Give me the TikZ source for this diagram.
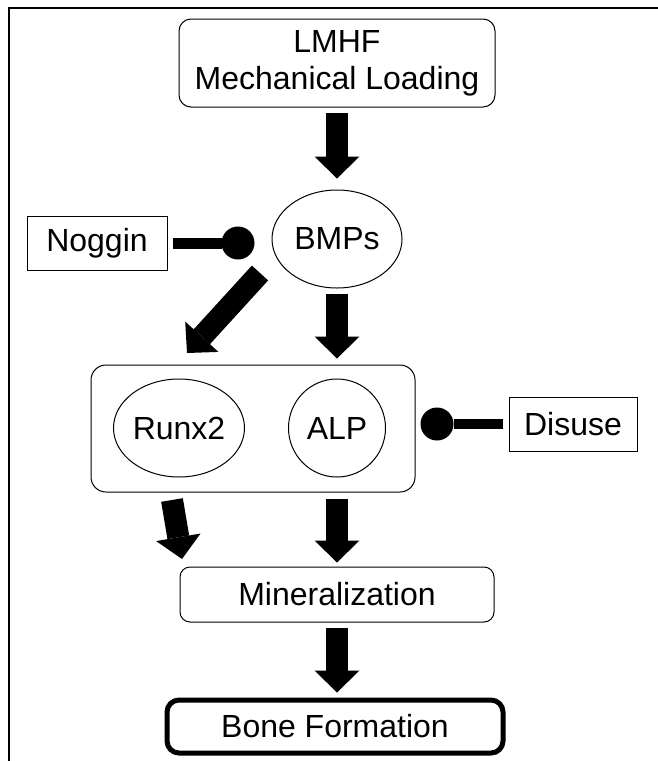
\documentclass[tikz,border=0pt]{standalone}
\usepackage{fontspec}
\setmainfont{Liberation Sans}
\usetikzlibrary{shapes,arrows.meta,positioning,calc}

\begin{document}
\begin{tikzpicture}[x=1pt, y=-1pt, font=\fontsize{32}{37}\selectfont,
    box/.style={draw, line width=1pt, inner sep=0pt},
    rbox/.style={box, rounded corners=12pt},
    oval/.style={draw, ellipse, line width=1pt, inner sep=0pt},
    fatarrow/.style={line width=22pt, -{Triangle[width=45pt,length=22pt,line width=0pt]}},
    blocker/.style={-{Circle[length=33pt,line width=0pt]}}]
    \useasboundingbox (0,0) rectangle (658,761);

    % Frame
    \draw[line width=2pt] (9,761) -- (9,8) -- (658,8);

    % Stimulus
    \node[rbox, minimum width=316pt, minimum height=88pt, align=center] (lmhf) at (337,63) {LMHF\\Mechanical Loading};

    % Signal
    \node[oval, minimum width=130pt, minimum height=98pt] (bmps) at (337,239) {BMPs};
    \node[box, minimum width=140pt, minimum height=54pt] (noggin) at (97,243) {Noggin};

    % Markers
    \node[box, rounded corners=15pt, minimum width=324pt, minimum height=127pt] (bigbox) at (253,428.5) {};
    \node[oval, minimum width=131pt, minimum height=98pt] (runx2) at (179,428) {Runx2};
    \node[oval, minimum width=97pt, minimum height=98pt] (alp) at (337,428) {ALP};
    \node[box, minimum width=128pt, minimum height=54pt] (disuse) at (573,424) {Disuse};

    % Outcome
    \node[rbox, rounded corners=10pt, minimum width=314pt, minimum height=55pt] (mineral) at (337,594.5) {Mineralization};
    \node[rbox, line width=5pt, minimum width=336pt, minimum height=53pt] (bone) at (335,726.5) {Bone Formation};

    % Arrows
    \coordinate (bmpsout) at (260,273);
    \coordinate (runx2in) at (187,353);
    \coordinate (runx2out) at (172,500);
    \coordinate (mineralin) at (182,559);
    \draw[fatarrow, shorten <=5pt, shorten >=11pt] (lmhf.south) -- (bmps.north);
    \draw[fatarrow] (bmpsout) -- (runx2in);
    \draw[fatarrow, shorten <=5pt, shorten >=20pt] (bmps.south) -- (alp.north);
    \draw[fatarrow] (runx2out) -- (mineralin);
    \draw[fatarrow, shorten <=21pt, shorten >=4pt] (alp.south) -- (mineral.north);
    \draw[fatarrow, shorten <=5pt, shorten >=5pt] (mineral.south) -- (mineral.south |- bone.north);

    % Inhibition
    \draw[line width=11pt, blocker, shorten <=5pt, shorten >=17pt] (noggin.east) -- (noggin.east -| bmps.west);
    \draw[line width=10pt, blocker, shorten <=6pt, shorten >=5pt] (disuse.west) -- (disuse.west -| bigbox.east);
\end{tikzpicture}
\end{document}
